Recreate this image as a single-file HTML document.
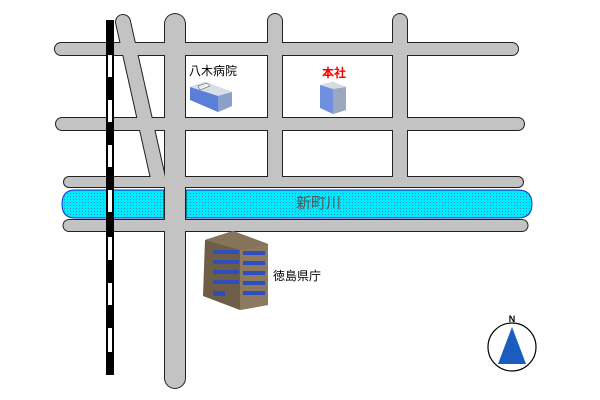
<!DOCTYPE html>
<html><head><meta charset="utf-8"><style>
html,body{margin:0;padding:0;background:#fff;width:600px;height:400px;overflow:hidden}
svg{display:block}
text{font-family:"Liberation Sans","Noto Sans CJK JP",sans-serif}
</style></head><body>
<svg width="600" height="400" viewBox="0 0 600 400" xmlns="http://www.w3.org/2000/svg">
<defs>
<pattern id="dots" width="3" height="3" patternUnits="userSpaceOnUse">
<rect width="3" height="3" fill="#00eaff"/><rect x="1" y="1" width="1" height="1" fill="#3a8fb0"/>
</pattern>
</defs>
<g stroke-linecap="round" fill="none">
<g stroke="#222">
<line x1="61" y1="49" x2="512" y2="49" stroke-width="14"/>
<line x1="62" y1="124" x2="518" y2="124" stroke-width="14"/>
<line x1="69" y1="182" x2="518" y2="182" stroke-width="12"/>
<line x1="69" y1="225.5" x2="522" y2="225.5" stroke-width="13"/>
<line x1="175" y1="24" x2="175" y2="378" stroke-width="22"/>
<line x1="275" y1="21" x2="275" y2="180" stroke-width="16"/>
<line x1="400" y1="21" x2="400" y2="180" stroke-width="16"/>
<line x1="123" y1="22" x2="158" y2="178" stroke-width="16"/>
</g>
<g stroke="#c3c3c3">
<line x1="61" y1="49" x2="512" y2="49" stroke-width="12"/>
<line x1="62" y1="124" x2="518" y2="124" stroke-width="12"/>
<line x1="69" y1="182" x2="518" y2="182" stroke-width="10"/>
<line x1="69" y1="225.5" x2="522" y2="225.5" stroke-width="11"/>
<line x1="175" y1="24" x2="175" y2="378" stroke-width="20"/>
<line x1="275" y1="21" x2="275" y2="180" stroke-width="14"/>
<line x1="400" y1="21" x2="400" y2="180" stroke-width="14"/>
<line x1="123" y1="22" x2="158" y2="178" stroke-width="14"/>
</g>
</g>
<!-- river -->
<path d="M164 190 H75 Q62 190 62 204 Q62 218 75 218 H164 Z" fill="url(#dots)" stroke="#1030d0" stroke-width="1"/>
<path d="M186 190 H518 Q532 190 532 204 Q532 218 518 218 H186 Z" fill="url(#dots)" stroke="#1030d0" stroke-width="1"/>
<line x1="164" y1="190" x2="164" y2="218" stroke="#222"/>
<line x1="186" y1="190" x2="186" y2="218" stroke="#222"/>
<text x="296" y="208" font-size="15" fill="#555">新町川</text>
<!-- railway -->
<rect x="106" y="20" width="8" height="355" fill="#000"/>
<g fill="#fff">
<rect x="108" y="55" width="4" height="22"/><rect x="108" y="100" width="4" height="22"/>
<rect x="108" y="145" width="4" height="22"/><rect x="108" y="190" width="4" height="22"/>
<rect x="108" y="237" width="4" height="23"/><rect x="108" y="283" width="4" height="22"/>
<rect x="108" y="328" width="4" height="24"/>
</g>
<!-- labels -->
<text x="189" y="75" font-size="12" fill="#000">八木病院</text>
<text x="322" y="77" font-size="12" fill="#f00" font-weight="bold">本社</text>
<text x="273" y="280" font-size="12" fill="#000">徳島県庁</text>
<!-- hospital -->
<polygon points="190,87 205,82 232,92 232,106 218,112 190,100" fill="#5b7fd8"/>
<polygon points="218,96 232,92 232,106 218,112" fill="#8aa0c8"/>
<polygon points="190,87 205,82 232,92 218,96" fill="#d8dde8"/>
<polygon points="198,86 207,83 210,86 200,90" fill="#eee" stroke="#444" stroke-width="0.5"/>
<!-- HQ -->
<polygon points="320,85 333,82 346,87 346,110 333,114 320,108" fill="#6f90e0"/>
<polygon points="333,88 346,87 346,110 333,114" fill="#9aa8c0"/>
<polygon points="320,85 333,82 346,87 333,89" fill="#d6dbe4"/>
<!-- prefectural office -->
<polygon points="205,240 233,231 268,244 268,305 240,310 203,296" fill="#6e5e48"/>
<polygon points="240,250 268,244 268,305 240,310" fill="#8b7a5e"/>
<polygon points="205,240 233,231 268,244 240,250" fill="#85745a"/>
<g fill="#2e4ec0">
<rect x="213" y="250" width="26" height="4"/><rect x="213" y="260" width="26" height="4"/><rect x="213" y="270" width="26" height="4"/><rect x="213" y="280" width="26" height="4"/>
<rect x="243" y="251" width="22" height="4"/><rect x="243" y="261" width="22" height="4"/><rect x="243" y="271" width="22" height="4"/><rect x="243" y="281" width="22" height="4"/><rect x="243" y="291" width="22" height="4"/>
<rect x="213" y="291" width="12" height="5"/>
</g>
<!-- compass -->
<circle cx="512" cy="347" r="24" fill="#fff" stroke="#000" stroke-width="1.2"/>
<polygon points="512,327 498,364 526,364" fill="#1a5cc0"/>
<text x="512" y="322" font-size="9" font-weight="bold" text-anchor="middle">N</text>
</svg>
</body></html>
